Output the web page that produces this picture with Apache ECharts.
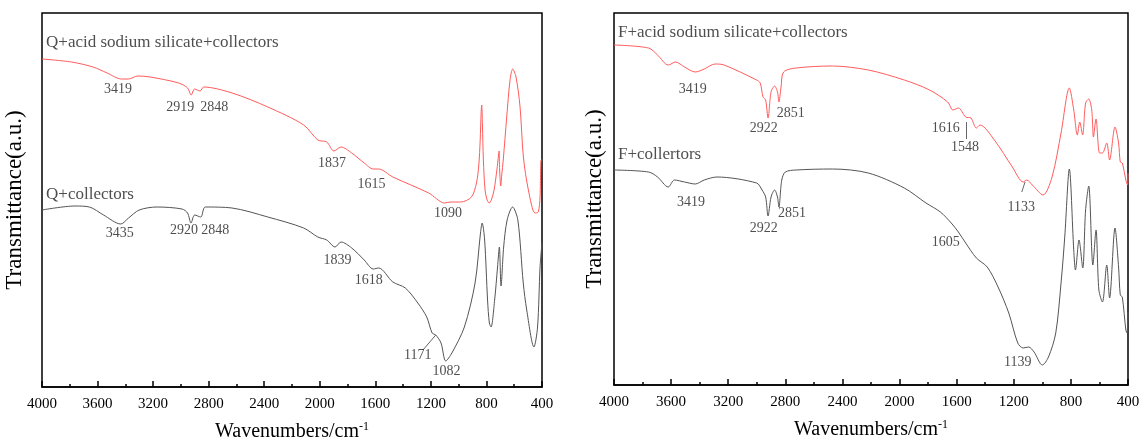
<!DOCTYPE html>
<html><head><meta charset="utf-8">
<script src="https://cdn.jsdelivr.net/npm/echarts@6/dist/echarts.min.js"></script>
<style>html,body{margin:0;padding:0;background:#fff}#c{width:1145px;height:440px}</style>
</head><body><div id="c"></div>
<script>
// Wavenumber (cm-1), transmittance (a.u.)
const qAcid = [[4000,328],[3788,325],[3633,320],[3531,314],[3428,308],[3377,308],[3312,311],[3222,310],[3016,304],[2952,299],[2926,292],[2901,298],[2862,296],[2836,300],[2631,294],[2374,280],[2116,262],[2014,247],[1950,245],[1898,236],[1847,240],[1770,234],[1680,224],[1615,218],[1576,218],[1474,210],[1216,194],[1101,184],[1062,185],[985,185],[908,190],[872,204],[855,222],[845,247],[838,275],[834,282],[829,262],[822,227],[810,197],[795,187],[780,184],[765,187],[745,197],[725,217],[713,232],[709,236],[705,217],[697,201],[690,212],[679,227],[654,270],[630,307],[611,318],[587,310],[558,280],[534,230],[498,197],[450,174],[427,175],[414,190],[407,227],[400,227]];
const qColl = [[4000,177],[3762,181],[3659,180],[3557,172],[3433,163],[3377,169],[3300,177],[3172,180],[2992,178],[2952,174],[2927,164],[2901,172],[2857,170],[2824,180],[2632,179],[2374,170],[2116,159],[2014,150],[1950,147],[1890,140],[1847,145],[1770,139],[1680,127],[1615,118],[1576,119],[1474,105],[1384,99],[1294,84],[1230,70],[1191,54],[1165,52],[1127,44],[1093,26],[1049,34],[959,60],[882,104],[843,154],[831,164],[813,147],[792,87],[779,64],[767,60],[741,87],[720,120],[707,140],[695,101],[676,140],[651,167],[612,180],[574,167],[535,104],[510,77],[458,40],[432,60],[414,120],[400,144]];
const fAcid = [[4000,340],[3758,337],[3695,330],[3620,320],[3569,323],[3506,318],[3431,313],[3368,316],[3292,321],[3229,320],[3001,305],[2976,302],[2956,288],[2938,285],[2921,267],[2900,293],[2875,299],[2855,293],[2845,283],[2830,298],[2812,313],[2724,317],[2471,319],[2219,315],[1967,305],[1790,295],[1663,283],[1626,275],[1588,277],[1537,268],[1500,267],[1462,257],[1437,260],[1336,245],[1210,218],[1134,203],[1109,205],[1070,200],[995,190],[932,208],[869,252],[811,297],[780,275],[755,250],[738,263],[718,250],[697,282],[675,286],[654,275],[642,248],[624,266],[599,232],[579,232],[549,242],[529,225],[491,258],[466,242],[454,223],[440,222],[415,205],[403,200],[400,212]];
const fColl = [[4000,215],[3758,213],[3695,208],[3620,198],[3577,205],[3506,203],[3431,201],[3368,205],[3279,208],[3001,202],[2963,195],[2938,188],[2921,169],[2900,188],[2875,195],[2855,188],[2845,178],[2825,205],[2800,213],[2724,215],[2471,216],[2219,212],[1967,197],[1815,182],[1714,173],[1638,162],[1588,153],[1537,142],[1462,127],[1386,118],[1310,98],[1235,72],[1172,42],[1134,37],[1096,38],[1058,33],[1000,20],[957,28],[906,52],[869,102],[843,148],[811,216],[780,135],[768,115],[743,145],[717,117],[697,175],[675,199],[646,120],[624,155],[604,95],[579,83],[549,120],[529,87],[491,157],[466,118],[454,90],[440,88],[415,55],[407,52],[400,73]];

const xTicks = [4000,3600,3200,2800,2400,2000,1600,1200,800,400];
// peak labels [wavenumber, value, text]
const qLabels = [[3453,298,'3419'],[3004,280,'2919'],[2759,280,'2848'],[1912,224,'1837'],[1628,203,'1615'],[1077,174,'1090'],
                 [3441,154,'3435'],[2978,157,'2920'],[2752,157,'2848'],[1872,127,'1839'],[1648,107,'1618'],[1294,32,'1171'],[1088,16,'1082']];
const fLabels = [[3448,296,'3419'],[2951,257,'2922'],[2762,272,'2851'],[1676,257,'1616'],[1542,238,'1548'],[1147,178,'1133'],
                 [3461,183,'3419'],[2754,172,'2851'],[2951,157,'2922'],[1676,143,'1605'],[1172,23,'1139']];
const qTitles = [[3971,344,'Q+acid sodium silicate+collectors'],[3971,192,'Q+collectors']];
const fTitles = [[3972,352,'F+acid sodium silicate+collectors'],[3972,230,'F+collertors']];
const qLeaders = [[[1257,37],[1165,52]]];
const fLeaders = [[[1530,263],[1530,246]],[[1144,193],[1121,203]]];

const serif = '"Liberation Serif","Times New Roman",serif';
const RED = '#ff5c5c', GRAY = '#555555';

function xAxisCfg(gi){
  return {gridIndex:gi,type:'value',min:400,max:4000,interval:400,inverse:true,
    axisLine:{show:true,lineStyle:{color:'#000',width:1.5}},
    axisTick:{show:true,inside:true,length:6,lineStyle:{color:'#000',width:1.5}},
    minorTick:{show:true,splitNumber:2,length:3,lineStyle:{color:'#000',width:1.5}},
    splitLine:{show:false},minorSplitLine:{show:false},
    axisLabel:{color:'#000',fontFamily:serif,fontSize:15,margin:10,
      formatter:v=>xTicks.includes(v)?String(v):''},
    name:'{a|Wavenumbers/cm}{b|-1}',nameLocation:'middle',nameGap:34,
    nameTextStyle:{rich:{a:{fontFamily:serif,fontSize:20,color:'#000'},
      b:{fontFamily:serif,fontSize:12,color:'#000',verticalAlign:'top',padding:[0,0,10,0]}}}};
}
function yAxisCfg(gi,max,gap){
  return {gridIndex:gi,type:'value',min:0,max:max,
    axisLine:{show:false},axisTick:{show:false},axisLabel:{show:false},splitLine:{show:false},
    name:'Transmittance(a.u.)',nameLocation:'middle',nameGap:gap,nameRotate:90,
    nameTextStyle:{fontFamily:serif,fontSize:23,color:'#000'}};
}
function lineSeries(gi,data,color){
  return {type:'line',xAxisIndex:gi,yAxisIndex:gi,data:data,showSymbol:false,symbol:'none',
    smooth:0.3,lineStyle:{color:color,width:1},silent:true,z:3};
}
function textSeries(gi,data,size,align){
  return {type:'scatter',xAxisIndex:gi,yAxisIndex:gi,symbolSize:0,silent:true,z:5,
    data:data.map(d=>({value:[d[0],d[1]],name:d[2]})),
    label:{show:true,position:'inside',formatter:p=>p.name,fontFamily:serif,fontSize:size,
      color:'#222',align:align}};
}
function leaderSeries(gi,segs){
  return {type:'line',xAxisIndex:gi,yAxisIndex:gi,data:[],silent:true,
    markLine:{symbol:'none',silent:true,label:{show:false},lineStyle:{color:'#666',width:1,type:'solid'},
      data:segs.map(s=>[{coord:s[0]},{coord:s[1]}])}};
}

const chart = echarts.init(document.getElementById('c'),null,{renderer:'canvas'});
chart.setOption({
  animation:false,backgroundColor:'#fff',
  grid:[{left:42,right:603,top:13,bottom:53,show:true,borderColor:'#000',borderWidth:1.5,containLabel:false,outerBoundsMode:'none'},
        {left:614,right:17,top:13,bottom:55,show:true,borderColor:'#000',borderWidth:1.5,containLabel:false,outerBoundsMode:'none'}],
  xAxis:[xAxisCfg(0),xAxisCfg(1)],
  yAxis:[yAxisCfg(0,374,16),yAxisCfg(1,372,8)],
  series:[
    lineSeries(0,qAcid,RED),lineSeries(0,qColl,GRAY),
    lineSeries(1,fAcid,RED),lineSeries(1,fColl,GRAY),
    textSeries(0,qLabels,14,'center'),textSeries(1,fLabels,14,'center'),
    textSeries(0,qTitles,17,'left'),textSeries(1,fTitles,17,'left'),
    leaderSeries(0,qLeaders),leaderSeries(1,fLeaders)
  ]
});
</script></body></html>
